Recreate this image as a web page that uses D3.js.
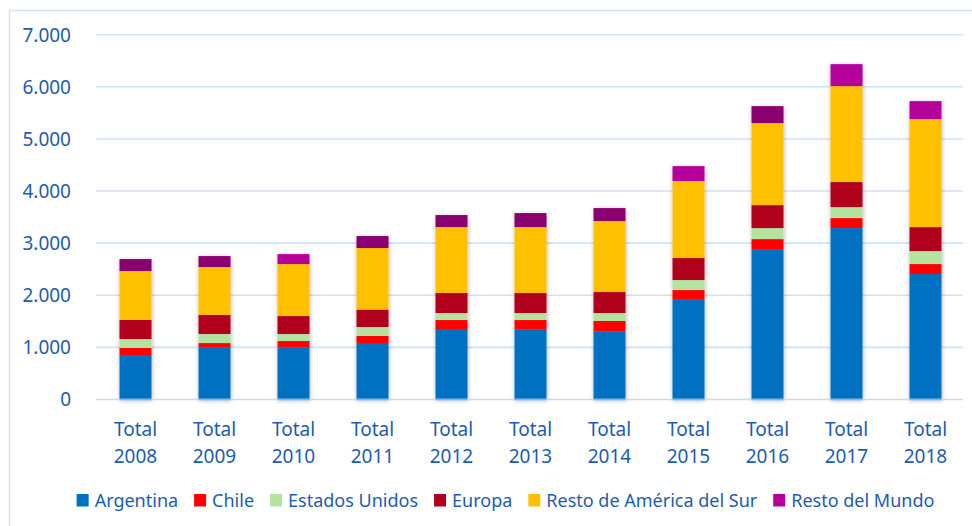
<!DOCTYPE html>
<html>
<head>
<meta charset="utf-8">
<script src="https://cdn.jsdelivr.net/npm/d3@7"></script>
<style>
    html, body { margin: 0; padding: 0; background: #fff; }
    svg { display: block; font-family: "Noto Sans", sans-serif; }
</style>
</head>
<body>
<div id="chart"></div>
<script>
// data
const years = ["2008", "2009", "2010", "2011", "2012", "2013", "2014", "2015", "2016", "2017", "2018"];
const seriesNames = ["Argentina", "Chile", "Estados Unidos", "Europa", "Resto de América del Sur", "Resto del Mundo"];
const argentina = [853, 994, 994, 1084, 1352, 1339, 1301, 1927, 2886, 3289, 2407];
const chile = [135, 89, 128, 134, 173, 186, 205, 173, 192, 192, 192];
const estadosUnidos = [172, 173, 134, 173, 134, 134, 153, 192, 211, 211, 249];
const europa = [365, 365, 345, 335, 384, 384, 403, 422, 441, 480, 460];
const restoAmerica = [939, 920, 997, 1180, 1265, 1265, 1361, 1477, 1573, 1841, 2072];
const restoMundo = [231, 211, 192, 230, 231, 269, 250, 287, 326, 422, 345];
const yTicks = [0, 1000, 2000, 3000, 4000, 5000, 6000, 7000];

(function() {
    let w = 972;
    let h = 526;

    let colors = ["#0070c0", "#ff0000", "#b4e3a0", "#b0001f", "#ffc000", "#b5009b"];
    // some bars in the picture carry a darker shade on the top segment
    let darkTop = new Set(["2008", "2009", "2011", "2012", "2013", "2014", "2016"]);
    let textColor = "#1d5cb6";

    let rows = years.map((yr, i) => ({
        year: yr,
        "Argentina": argentina[i],
        "Chile": chile[i],
        "Estados Unidos": estadosUnidos[i],
        "Europa": europa[i],
        "Resto de América del Sur": restoAmerica[i],
        "Resto del Mundo": restoMundo[i]
    }));

    let stacked = d3.stack().keys(seriesNames)(rows);

    let svg = d3.select("#chart")
        .append("svg")
        .attr("width", w)
        .attr("height", h)
        .attr("viewBox", "0 0 " + w + " " + h);

    let defs = svg.append("defs");
    let shadow = defs.append("filter")
        .attr("id", "barShadow")
        .attr("x", "-30%").attr("y", "-10%")
        .attr("width", "160%").attr("height", "120%");
    shadow.append("feDropShadow")
        .attr("dx", 0.5)
        .attr("dy", 1)
        .attr("stdDeviation", 2)
        .attr("flood-color", "#000")
        .attr("flood-opacity", 0.3);

    // chart frame (runs off the right and bottom edge)
    svg.append("rect")
        .attr("x", 9.5)
        .attr("y", 10.5)
        .attr("width", w + 20)
        .attr("height", h + 20)
        .attr("fill", "none")
        .attr("stroke", "#d3e3f7")
        .attr("stroke-width", 1.5);

    let x = d3.scaleBand()
        .domain(years)
        .range([96, 965]);

    let y = d3.scaleLinear()
        .domain([0, 7000])
        .range([399.5, 34.7]);

    let loc = d3.formatLocale({decimal: ",", thousands: ".", grouping: [3], currency: ["", ""]});
    let fmt = loc.format(",d");

    // gridlines
    svg.append("g")
        .selectAll("line")
        .data(yTicks.filter(d => d > 0))
        .enter()
        .append("line")
        .attr("x1", 96)
        .attr("x2", 963)
        .attr("y1", d => y(d))
        .attr("y2", d => y(d))
        .attr("stroke", "#d0e2f7")
        .attr("stroke-width", 1.6);

    // y tick labels
    svg.append("g")
        .selectAll("text")
        .data(yTicks)
        .enter()
        .append("text")
        .attr("x", 71)
        .attr("y", d => y(d) + 6.8)
        .attr("text-anchor", "end")
        .attr("fill", textColor)
        .attr("font-size", 19)
        .text(d => fmt(d));

    let barW = x.bandwidth() * 0.405;

    // stacked bars
    let layers = svg.append("g")
        .attr("filter", "url(#barShadow)");

    layers.selectAll("g")
        .data(stacked)
        .enter()
        .append("g")
        .each(function(layer, li) {
            d3.select(this)
                .selectAll("rect")
                .data(layer)
                .enter()
                .append("rect")
                .attr("x", d => x(d.data.year) + (x.bandwidth() - barW) / 2)
                .attr("y", d => y(d[1]))
                .attr("width", barW)
                .attr("height", d => y(d[0]) - y(d[1]))
                .attr("fill", d => (li === 5 && darkTop.has(d.data.year)) ? "#8a0070" : colors[li]);
        });

    // zero line drawn over the bars
    svg.append("line")
        .attr("x1", 96)
        .attr("x2", 963)
        .attr("y1", y(0))
        .attr("y2", y(0))
        .attr("stroke", "#c4dbf4")
        .attr("stroke-width", 1.6);
    svg.append("g")
        .selectAll("line")
        .data(years)
        .enter()
        .append("line")
        .attr("x1", d => x(d) + (x.bandwidth() - barW) / 2)
        .attr("x2", d => x(d) + (x.bandwidth() + barW) / 2)
        .attr("y1", y(0))
        .attr("y2", y(0))
        .attr("stroke", "#7fb3e6")
        .attr("stroke-width", 1.6);

    // category labels
    let xl = svg.append("g")
        .selectAll("text")
        .data(years)
        .enter()
        .append("text")
        .attr("text-anchor", "middle")
        .attr("fill", textColor)
        .attr("font-size", 19);
    xl.append("tspan")
        .attr("x", d => x(d) + x.bandwidth() / 2)
        .attr("y", 436)
        .text("Total");
    xl.append("tspan")
        .attr("x", d => x(d) + x.bandwidth() / 2)
        .attr("y", 462.5)
        .text(d => d);

    // legend
    let legend = svg.append("g");
    let gap = 16;
    let cursor = 0;
    seriesNames.forEach((name, i) => {
        let item = legend.append("g").attr("transform", "translate(" + cursor + ",0)");
        item.append("rect")
            .attr("x", 0)
            .attr("y", 494)
            .attr("width", 12)
            .attr("height", 12.5)
            .attr("fill", colors[i]);
        let t = item.append("text")
            .attr("x", 18)
            .attr("y", 507)
            .attr("fill", textColor)
            .attr("font-size", 18)
            .text(name);
        cursor += 18 + t.node().getComputedTextLength() + gap;
    });
    let legendW = cursor - gap;
    legend.attr("transform", "translate(" + (505.5 - legendW / 2) + ",0)");
})();
</script>
</body>
</html>
